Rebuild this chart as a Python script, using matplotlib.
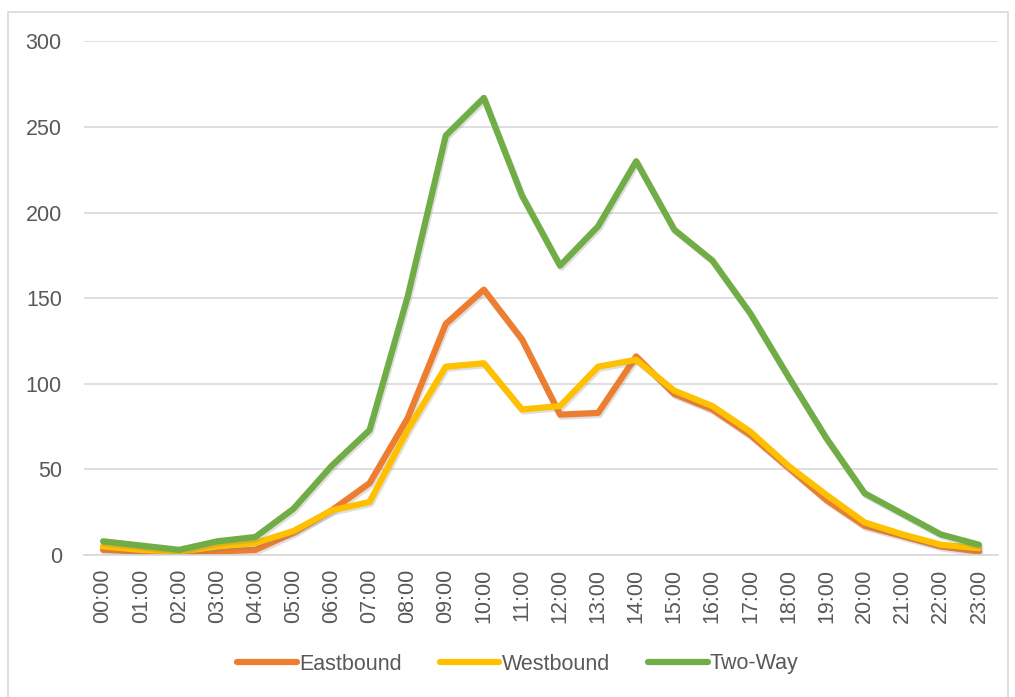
import matplotlib
matplotlib.use("Agg")
import matplotlib.pyplot as plt
import matplotlib.patheffects as pe
from matplotlib.patches import Rectangle

# hourly counts
hours = ["%02d:00" % h for h in range(24)]
eastbound = [3, 2, 1, 2, 3, 13, 26, 42, 80, 135, 155, 126, 82, 83, 116, 94, 85, 70, 51, 32, 17, 11, 5, 2]
westbound = [5, 3, 2, 5, 7, 14, 26, 31, 73, 110, 112, 85, 87, 110, 114, 96, 87, 72, 52, 35, 19, 12, 6, 4]
two_way = [8, 5.5, 3, 8, 10.5, 27, 52, 73, 151, 245, 267, 210, 169, 192, 230, 190, 172, 141, 104, 68, 36, 24, 12, 6]

plt.rcParams['font.family'] = ['Liberation Sans', 'DejaVu Sans']

fig = plt.figure(figsize=(10.15, 6.97), dpi=100)
ax = fig.add_axes([84/1015, 1 - 555/697, 914/1015, (555 - 41.4)/697])

# chart border like the spreadsheet frame
fig.patches.append(Rectangle((8/1015, -0.01), 1000/1015, 1 - 12/697 + 0.01, transform=fig.transFigure,
                             fill=False, edgecolor='#D9D9D9', linewidth=1.2))

shadow = [pe.SimpleLineShadow(offset=(1, -1.5), shadow_color='gray', alpha=0.25), pe.Normal()]
x = range(len(hours))
ax.plot(x, eastbound, color='#ED7D31', lw=4.5, label='Eastbound', solid_capstyle='round',
        solid_joinstyle='round', path_effects=shadow)
ax.plot(x, westbound, color='#FFC000', lw=4.5, label='Westbound', solid_capstyle='round',
        solid_joinstyle='round', path_effects=shadow)
ax.plot(x, two_way, color='#70AD47', lw=4.5, label='Two-Way', solid_capstyle='round',
        solid_joinstyle='round', path_effects=shadow)

ax.set_xlim(-0.5, 23.5)
ax.set_ylim(0, 300)
ax.set_yticks(range(0, 301, 50))
ax.set_xticks(list(x))
ax.set_xticklabels(hours, rotation=90)
ax.tick_params(length=0, labelsize=15.5, labelcolor='#595959')
ax.tick_params(axis='y', pad=16)
ax.tick_params(axis='x', pad=10)
ax.grid(axis='y', color='#D9D9D9', lw=1.2)
ax.set_axisbelow(True)
for s in ['top', 'right', 'left']:
    ax.spines[s].set_visible(False)
ax.spines['bottom'].set_color('#D9D9D9')
ax.spines['bottom'].set_linewidth(1.2)

leg = fig.legend(loc='center', bbox_to_anchor=(518/1015, 1 - 664/697), ncol=3, frameon=False,
                 fontsize=15.5, handlelength=2.75, handletextpad=0.1, columnspacing=1.8,
                 labelcolor='#595959')
for h in leg.get_lines():
    h.set_path_effects([])

fig.savefig('out.png', dpi=100)
